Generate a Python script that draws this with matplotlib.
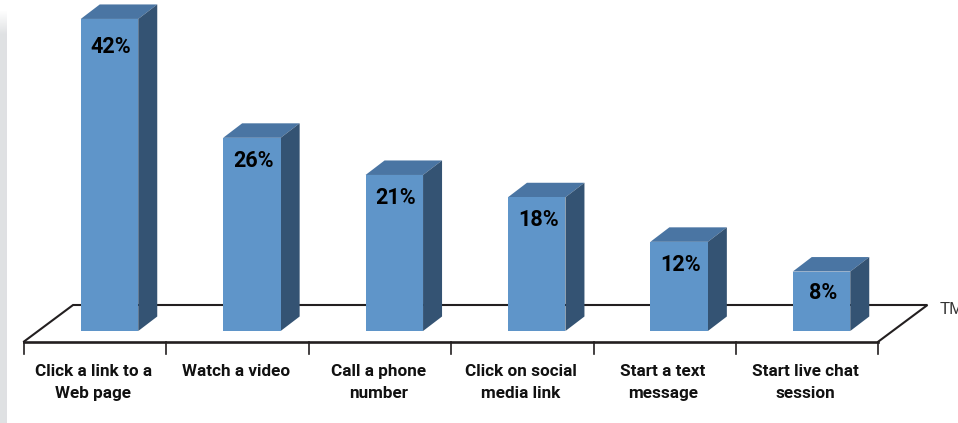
#!/usr/bin/env python
"""
Faux 3D bar chart of actions taken, drawn on value/category axes
"""
import numpy as np
import matplotlib
matplotlib.use('Agg')
import matplotlib.pyplot as plt
import matplotlib.patches as patches

categories = ['Click a link to a\nWeb page', 'Watch a video', 'Call a phone\nnumber',
              'Click on social\nmedia link', 'Start a text\nmessage', 'Start live chat\nsession']
values = [42, 26, 21, 18, 12, 8]
# height on the value axis where each percentage sits
label_heights = [38.2, 22.9, 17.9, 14.9, 8.9, 5.1]

FRONT = '#5f95c9'
TOP = '#4a75a3'
SIDE = '#345373'
LINE = '#231f20'

plt.rcParams['font.family'] = ['Roboto', 'DejaVu Sans']

W, H = 958, 423
fig = plt.figure(figsize=(W / 100, H / 100), dpi=100, facecolor='white')
ax = fig.add_axes([0, 0, 1, 1])

# one category = 142.4 px, one percent = 7.43 px, first bar centre at 109.5 px
px_x = 142.4
px_y = 7.43
ax.set_xlim(-109.5 / px_x, (W - 109.5) / px_x)
ax.set_ylim(-(H - 331) / px_y, 331 / px_y)
ax.axis('off')

bar_w = 57.5 / px_x
dx = 19 / px_x
dy = 14.5 / px_y

# floor
floor_front = -10.5 / px_y
floor_back = 26 / px_y
tick_low = -23 / px_y
left = -0.6
right = left + 6
skew = 49 / px_x
ax.plot([left, left + skew, right + skew, right], [floor_front, floor_back, floor_back, floor_front],
        color=LINE, lw=1.5, zorder=1, solid_joinstyle='miter')
ax.plot([left, right], [floor_front, floor_front], color=LINE, lw=1.9, zorder=1)
for i in range(7):
    ax.plot([left + i, left + i], [floor_front, tick_low], color=LINE, lw=1.2, zorder=1)

for i, (cat, val, lab_h) in enumerate(zip(categories, values, label_heights)):
    x0 = i - bar_w / 2
    x1 = i + bar_w / 2
    ax.add_patch(patches.Polygon([(x0, val), (x1, val), (x1 + dx, val + dy), (x0 + dx, val + dy)],
                                 closed=True, facecolor=TOP, edgecolor='none', zorder=2))
    ax.add_patch(patches.Polygon([(x1, 0), (x1 + dx, dy), (x1 + dx, val + dy), (x1, val)],
                                 closed=True, facecolor=SIDE, edgecolor='none', zorder=2))
    ax.bar(i, val, width=bar_w, color=FRONT, zorder=3)
    ax.text(i + 0.012, lab_h, f'{val}%', ha='center', va='center', fontsize=15.5,
            fontweight='bold', color='black', zorder=4)
    ax.text(i - 0.113, -4.45, cat, ha='center', va='top', fontsize=12.3,
            fontweight='bold', color='#111111', linespacing=1.55, zorder=4)

ax.text(right + skew + 0.085, 2.9, 'TM', ha='left', va='center', fontsize=12,
        color='#333333', family=['Liberation Sans', 'DejaVu Sans'])

# grey strip down the left edge, fading out at the top
strip = fig.add_axes([0, 0, 7 / W, 1])
strip.axis('off')
fade = np.ones((H, 1))
fade[:10, 0] = 0
fade[10:35, 0] = np.linspace(0, 1, 25)
rgba = np.zeros((H, 1, 4))
rgba[..., :3] = matplotlib.colors.to_rgb('#dfe1e3')
rgba[..., 3] = fade
strip.imshow(rgba, aspect='auto', interpolation='bilinear')

fig.savefig('out.png', dpi=100)
